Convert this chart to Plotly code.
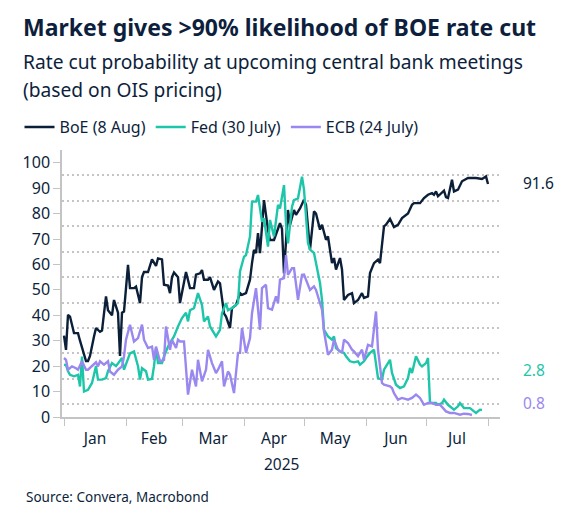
import plotly.graph_objects as go

# ---------------- data ----------------
boe_dates = ["2025-01-01","2025-01-02","2025-01-03","2025-01-04","2025-01-06","2025-01-08","2025-01-09","2025-01-11","2025-01-12","2025-01-13",
             "2025-01-14","2025-01-16","2025-01-17","2025-01-19","2025-01-20","2025-01-22","2025-01-23","2025-01-25","2025-01-26","2025-01-28",
             "2025-01-29","2025-01-30","2025-01-31","2025-02-02","2025-02-03","2025-02-05","2025-02-06","2025-02-08","2025-02-09","2025-02-10",
             "2025-02-12","2025-02-14","2025-02-16","2025-02-17","2025-02-19","2025-02-20","2025-02-22","2025-02-23","2025-02-24","2025-02-25",
             "2025-02-27","2025-02-28","2025-03-02","2025-03-03","2025-03-05","2025-03-07","2025-03-08","2025-03-10","2025-03-11","2025-03-12",
             "2025-03-14","2025-03-15","2025-03-17","2025-03-19","2025-03-20","2025-03-22","2025-03-23","2025-03-25","2025-03-26","2025-03-28",
             "2025-03-30","2025-03-31","2025-04-02","2025-04-04","2025-04-05","2025-04-06","2025-04-07","2025-04-08","2025-04-09","2025-04-11",
             "2025-04-13","2025-04-14","2025-04-16","2025-04-18","2025-04-19","2025-04-20","2025-04-21","2025-04-23","2025-04-24","2025-04-26",
             "2025-04-27","2025-04-29","2025-05-01","2025-05-02","2025-05-04","2025-05-06","2025-05-07","2025-05-09","2025-05-10","2025-05-12",
             "2025-05-13","2025-05-15","2025-05-16","2025-05-17","2025-05-19","2025-05-20","2025-05-21","2025-05-23","2025-05-25","2025-05-26",
             "2025-05-28","2025-05-30","2025-05-31","2025-06-02","2025-06-03","2025-06-05","2025-06-07","2025-06-08","2025-06-10","2025-06-11",
             "2025-06-13","2025-06-15","2025-06-17","2025-06-19","2025-06-22","2025-06-24","2025-06-25","2025-06-28","2025-06-30","2025-07-02",
             "2025-07-04","2025-07-05","2025-07-06","2025-07-07","2025-07-09","2025-07-10","2025-07-11","2025-07-12","2025-07-14","2025-07-15",
             "2025-07-17","2025-07-19","2025-07-22","2025-07-24","2025-07-26","2025-07-29","2025-07-31","2025-08-01"]
boe_values = [32, 26.4, 40.2, 39.5, 33, 33, 30, 25, 22, 22,
              24, 31.7, 35, 33.5, 34, 47.4, 42, 40, 46, 41,
              24, 41, 41.5, 59.8, 50.7, 50.7, 51.3, 44.8, 55, 57,
              57, 62, 59.4, 62.4, 62, 52, 51.7, 48.7, 55, 56.8,
              55, 44.8, 53.3, 57, 50.7, 50.7, 56, 56.5, 57.8, 54,
              54, 55, 50, 53.3, 52.6, 40.8, 39.5, 35, 42.8, 44,
              48.7, 48, 48.7, 54, 60.5, 65.7, 64.4, 72.3, 64.4, 85.3,
              73.6, 69.6, 69.6, 73.6, 76.2, 74, 56.5, 81.4, 75.5, 81.4,
              79.5, 82, 85.4, 83.5, 65.8, 80.9, 80, 73.7, 75.6, 69.7,
              71, 60.5, 62.5, 58, 62.5, 58, 46, 48, 48.7, 44.8,
              46, 48.7, 46.8, 47.4, 56.6, 60.5, 61.9, 60.5, 75, 75.6,
              77.9, 74.7, 75.6, 78.2, 80, 83.5, 84.1, 84.1, 86.1, 87.4,
              88, 87.4, 88.7, 86.8, 88.3, 89, 86.5, 86.1, 93.3, 88.7,
              89.4, 92.7, 94, 94, 94, 93.6, 94.6, 91.6]

fed_dates = ["2025-01-01","2025-01-02","2025-01-03","2025-01-04","2025-01-06","2025-01-08","2025-01-09","2025-01-10","2025-01-11","2025-01-13",
             "2025-01-15","2025-01-17","2025-01-18","2025-01-20","2025-01-22","2025-01-23","2025-01-25","2025-01-27","2025-01-30","2025-01-31",
             "2025-02-03","2025-02-05","2025-02-07","2025-02-08","2025-02-09","2025-02-11","2025-02-12","2025-02-14","2025-02-15","2025-02-16",
             "2025-02-17","2025-02-19","2025-02-20","2025-02-22","2025-02-24","2025-02-25","2025-02-27","2025-03-01","2025-03-03","2025-03-04",
             "2025-03-05","2025-03-07","2025-03-09","2025-03-11","2025-03-12","2025-03-14","2025-03-15","2025-03-17","2025-03-18","2025-03-20",
             "2025-03-21","2025-03-23","2025-03-24","2025-03-26","2025-03-29","2025-03-30","2025-04-01","2025-04-02","2025-04-04","2025-04-05",
             "2025-04-07","2025-04-08","2025-04-10","2025-04-11","2025-04-13","2025-04-14","2025-04-16","2025-04-18","2025-04-19","2025-04-21",
             "2025-04-22","2025-04-23","2025-04-25","2025-04-26","2025-04-28","2025-04-30","2025-05-01","2025-05-03","2025-05-04","2025-05-06",
             "2025-05-08","2025-05-09","2025-05-10","2025-05-11","2025-05-13","2025-05-15","2025-05-16","2025-05-17","2025-05-19","2025-05-21",
             "2025-05-22","2025-05-24","2025-05-26","2025-05-28","2025-05-29","2025-05-31","2025-06-01","2025-06-03","2025-06-05","2025-06-07",
             "2025-06-09","2025-06-10","2025-06-13","2025-06-14","2025-06-16","2025-06-18","2025-06-20","2025-06-22","2025-06-23","2025-06-24",
             "2025-06-26","2025-06-28","2025-06-29","2025-07-01","2025-07-02","2025-07-03","2025-07-06","2025-07-07","2025-07-09","2025-07-10",
             "2025-07-12","2025-07-14","2025-07-15","2025-07-17","2025-07-18","2025-07-20","2025-07-22","2025-07-23","2025-07-25","2025-07-26",
             "2025-07-28","2025-07-29"]
fed_values = [20.5, 20.5, 18, 16.6, 16, 16.6, 12, 23.8, 10, 10.7,
              13.4, 20, 14.7, 14.7, 15.3, 18, 21.2, 20, 23.2, 18.6,
              25, 25.8, 20, 14.7, 19.2, 18, 14.7, 15, 20, 27,
              21.2, 21.2, 23.8, 27.7, 30.4, 31.7, 35.6, 38.9, 41, 37.6,
              42, 42.8, 48.7, 44, 37.6, 39.5, 35.6, 33, 31.7, 34.3,
              40.8, 44.8, 42, 42.8, 44.8, 57.2, 63, 63.7, 71, 84.7,
              84.7, 87.3, 76.8, 78.1, 67, 77.5, 71, 83.4, 82, 91.2,
              76.2, 68.3, 82.7, 85.3, 86, 94.5, 89.4, 68.4, 65.8, 64.5,
              57.3, 52.7, 46.1, 34.3, 31.7, 30.4, 31.7, 27.1, 25.8, 25.2,
              23.9, 21.9, 21.5, 21.9, 20.6, 21.9, 23.2, 25.2, 26.5, 15.3,
              14.7, 18.6, 22.5, 17.3, 12.7, 11.4, 12.1, 15.3, 19.3, 17.3,
              23.9, 20.6, 19.9, 21.2, 23.2, 5.5, 5.5, 4.8, 5.5, 6.8,
              4.8, 3.5, 2.9, 4.2, 5.5, 3.5, 3.5, 3.5, 2.2, 1.6,
              2.9, 2.8]

ecb_dates = ["2025-01-01","2025-01-02","2025-01-03","2025-01-05","2025-01-07","2025-01-08","2025-01-10","2025-01-12","2025-01-13","2025-01-15",
             "2025-01-17","2025-01-18","2025-01-19","2025-01-21","2025-01-23","2025-01-24","2025-01-26","2025-01-28","2025-01-30","2025-01-31",
             "2025-02-01","2025-02-03","2025-02-05","2025-02-07","2025-02-09","2025-02-10","2025-02-12","2025-02-14","2025-02-15","2025-02-16",
             "2025-02-18","2025-02-20","2025-02-21","2025-02-23","2025-02-24","2025-02-26","2025-02-27","2025-02-28","2025-03-02","2025-03-04",
             "2025-03-06","2025-03-08","2025-03-09","2025-03-11","2025-03-13","2025-03-14","2025-03-16","2025-03-18","2025-03-19","2025-03-21",
             "2025-03-22","2025-03-24","2025-03-25","2025-03-27","2025-03-29","2025-03-30","2025-03-31","2025-04-02","2025-04-04","2025-04-05",
             "2025-04-07","2025-04-09","2025-04-10","2025-04-12","2025-04-13","2025-04-15","2025-04-17","2025-04-18","2025-04-19","2025-04-21",
             "2025-04-22","2025-04-23","2025-04-25","2025-04-26","2025-04-28","2025-04-30","2025-05-01","2025-05-04","2025-05-06","2025-05-07",
             "2025-05-09","2025-05-10","2025-05-11","2025-05-13","2025-05-15","2025-05-16","2025-05-18","2025-05-20","2025-05-21","2025-05-23",
             "2025-05-25","2025-05-26","2025-05-28","2025-05-30","2025-05-31","2025-06-02","2025-06-04","2025-06-06","2025-06-07","2025-06-09",
             "2025-06-10","2025-06-13","2025-06-14","2025-06-15","2025-06-17","2025-06-19","2025-06-22","2025-06-24","2025-06-26","2025-06-28",
             "2025-06-30","2025-07-02","2025-07-04","2025-07-06","2025-07-08","2025-07-11","2025-07-13","2025-07-15","2025-07-18","2025-07-20",
             "2025-07-22","2025-07-24"]
ecb_values = [23.2, 22.5, 18.6, 19.9, 19.2, 18.6, 21.9, 18.6, 18.6, 19.9,
              21.5, 19.9, 21.9, 20.6, 21.9, 17.9, 16.6, 18.6, 19.9, 23.8,
              30.4, 36.3, 29.7, 31, 36.3, 30.4, 27.1, 27.7, 22.5, 27.7,
              21.9, 22.5, 35.6, 26.4, 30.4, 27.1, 30.4, 29.7, 29.7, 8.8,
              18.6, 12, 22.5, 14, 18.6, 26.4, 21.2, 17.3, 18.6, 21.9,
              12, 17.9, 16.6, 9.4, 25.2, 25.2, 35, 25.2, 31, 40.8,
              50.7, 34.3, 50.7, 52, 42.8, 42.2, 47.4, 44.8, 54, 54.6,
              63.7, 55.9, 58.5, 58.5, 46.1, 55.9, 56, 50, 51.4, 50,
              44.8, 42.2, 33.7, 24.5, 26.5, 30.4, 26.5, 25.2, 30.4, 29.1,
              26.5, 25.8, 23.9, 26.5, 22.5, 28.4, 27.8, 41.5, 26.5, 13.4,
              12.7, 12.1, 11.4, 9.4, 6.8, 7.5, 6.8, 7.5, 8.8, 7.5,
              4.8, 5.5, 5.5, 4.8, 4.8, 2.2, 1.6, 1.6, 0.9, 1.3,
              1.2, 0.8]

series_names = ["BoE (8 Aug)", "Fed (30 July)", "ECB (24 July)"]
y_ticks = [0, 10, 20, 30, 40, 50, 60, 70, 80, 90, 100]
grid_vals = [5, 15, 25, 35, 45, 55, 65, 75, 85, 95]

# ---------------- styling ----------------
FONT = "Noto Sans"
TXT = "#0d1f3c"
BOE_C = "#0b1f38"
FED_C = "#1dc6a9"
ECB_C = "#9a88f0"
AXIS_C = "#c4c4c4"

fig = go.Figure()
for d, v, name, col in [(boe_dates, boe_values, series_names[0], BOE_C),
                        (fed_dates, fed_values, series_names[1], FED_C),
                        (ecb_dates, ecb_values, series_names[2], ECB_C)]:
    fig.add_trace(go.Scatter(x=d, y=v, mode="lines", name=name,
                             line=dict(color=col, width=2.4), hoverinfo="x+y"))

annotations = [
    dict(text="<b>Market gives &gt;90% likelihood of BOE rate cut</b>", x=-0.094, y=1.461,
         xref="paper", yref="paper", xanchor="left", yanchor="middle", showarrow=False,
         font=dict(size=23, color=TXT, family=FONT)),
    dict(text="Rate cut probability at upcoming central bank meetings", x=-0.094, y=1.333,
         xref="paper", yref="paper", xanchor="left", yanchor="middle", showarrow=False,
         font=dict(size=19.2, color=TXT, family=FONT)),
    dict(text="(based on OIS pricing)", x=-0.094, y=1.228,
         xref="paper", yref="paper", xanchor="left", yanchor="middle", showarrow=False,
         font=dict(size=19.2, color=TXT, family=FONT)),
    dict(text="2025", x=0.5, y=-0.176, xref="paper", yref="paper", xanchor="center",
         yanchor="middle", showarrow=False, font=dict(size=15.5, color=TXT, family=FONT)),
    dict(text="Source: Convera, Macrobond", x=-0.087, y=-0.30, xref="paper", yref="paper",
         xanchor="left", yanchor="middle", showarrow=False, font=dict(size=13.5, color=TXT, family=FONT)),
    dict(text=f"{boe_values[-1]}", x=1.049, y=92, xref="paper", yref="y", xanchor="left",
         yanchor="middle", showarrow=False, font=dict(size=15.5, color=BOE_C, family=FONT)),
    dict(text=f"{fed_values[-1]}", x=1.049, y=18.5, xref="paper", yref="y", xanchor="left",
         yanchor="middle", showarrow=False, font=dict(size=15.5, color=FED_C, family=FONT)),
    dict(text=f"{ecb_values[-1]}", x=1.049, y=5.5, xref="paper", yref="y", xanchor="left",
         yanchor="middle", showarrow=False, font=dict(size=15.5, color=ECB_C, family=FONT)),
]

# the page body has an 8px margin, so the figure is 8px smaller and margins are shifted
fig.update_layout(
    width=558, height=513,
    margin=dict(l=44, r=66, t=142, b=104, pad=0),
    paper_bgcolor="white", plot_bgcolor="white",
    font=dict(family=FONT, color=TXT, size=15),
    showlegend=True,
    legend=dict(orientation="h", x=-0.097, y=1.086, xanchor="left", yanchor="middle",
                font=dict(size=16, color=TXT, family=FONT), itemwidth=30,
                bgcolor="rgba(0,0,0,0)", traceorder="normal"),
    annotations=annotations,
    xaxis=dict(type="date", range=["2024-12-31", "2025-08-07"], dtick="M1", tick0="2025-01-01",
               tickformat="%b", ticklabelmode="period", ticks="outside", ticklen=7,
               tickcolor=AXIS_C, showline=True, linecolor=AXIS_C, linewidth=1.5,
               showgrid=False, zeroline=False, tickfont=dict(size=15.5, color=TXT)),
    yaxis=dict(range=[0, 105], tickvals=y_ticks, ticks="outside", ticklen=7, tickcolor=AXIS_C,
               showline=True, linecolor=AXIS_C, linewidth=1.5, showgrid=False, zeroline=False,
               tickfont=dict(size=16, color=TXT),
               minor=dict(tickvals=grid_vals, showgrid=True, gridcolor="#c4c4c4",
                          griddash="1.5px,3.5px", gridwidth=1.5, ticks="")),
)

fig.write_html("out.html")
